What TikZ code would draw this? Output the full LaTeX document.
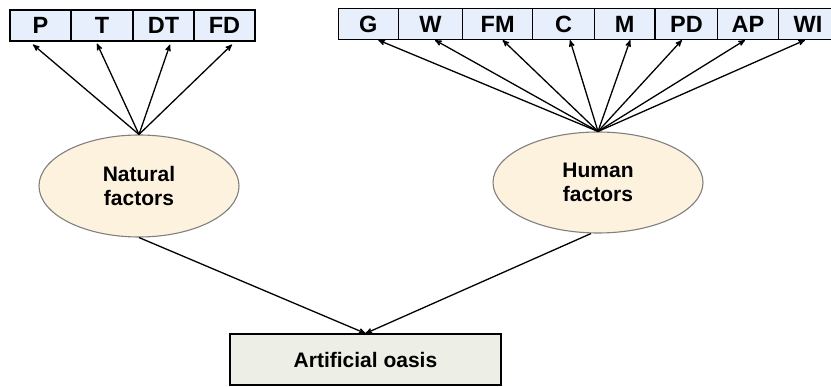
\documentclass[tikz,border=0pt]{standalone}
\usepackage{fontspec}
\setmainfont{Liberation Sans}
\usetikzlibrary{arrows,shapes.geometric}

\definecolor{cellblue}{RGB}{231,239,252}
\definecolor{factorfill}{RGB}{253,242,222}
\definecolor{oasisfill}{RGB}{237,239,230}

\begin{document}
\begin{tikzpicture}[x=1pt,y=-1pt,>=stealth',
    cell/.style={rectangle,draw,line width=1.2pt,fill=cellblue,inner sep=0pt,
      minimum height=31pt,font=\fontsize{23.5}{26}\selectfont\bfseries},
    factor/.style={ellipse,draw=gray,line width=1.1pt,fill=factorfill,inner sep=0pt,
      align=center,font=\fontsize{21}{24}\selectfont\bfseries}]
  \useasboundingbox (0,0) rectangle (831,387);

  % natural factors
  \node[cell,minimum width=61pt] (p)  at (40.5,25.5)  {P};
  \node[cell,minimum width=62pt] (t)  at (102,25.5)   {T};
  \node[cell,minimum width=61pt] (dt) at (163.5,25.5) {DT};
  \node[cell,minimum width=61pt] (fd) at (224.5,25.5) {FD};

  % human factors
  \node[cell,minimum width=60pt] (g)  at (368.3,24) {G};
  \node[cell,minimum width=64pt] (w)  at (430.5,24) {W};
  \node[cell,minimum width=70pt] (fm) at (497.7,24) {FM};
  \node[cell,minimum width=62pt] (c)  at (563.5,24) {C};
  \node[cell,minimum width=61pt] (m)  at (624.7,24) {M};
  \node[cell,minimum width=63pt] (pd) at (686.4,24) {PD};
  \node[cell,minimum width=61pt] (ap) at (748,24)   {AP};
  \node[cell,minimum width=59pt] (wi) at (808,24)   {WI};

  \node[factor,minimum width=200pt,minimum height=102pt] (natural) at (139,186) {Natural\\factors};
  \node[factor,minimum width=210pt,minimum height=101pt] (human) at (598,182.5) {Human\\factors};

  \node[rectangle,draw,line width=1.2pt,fill=oasisfill,minimum width=271pt,minimum height=51pt,
    font=\fontsize{21}{24}\selectfont\bfseries] (oasis) at (365.5,359.5) {Artificial oasis};

  \path[->,line width=1.3pt]
    (natural.north) edge ([xshift=-7.5pt,yshift=-3pt]p.south)
                    edge ([xshift=-5pt,yshift=-2pt]t.south)
                    edge ([xshift=6.5pt,yshift=-3pt]dt.south)
                    edge ([xshift=7.5pt,yshift=-3pt]fd.south)
    (human.north) edge ([xshift=10pt]g.south)
                  edge ([xshift=4.5pt]w.south)
                  edge ([xshift=5pt]fm.south)
                  edge ([xshift=6.5pt]c.south)
                  edge ([xshift=5.5pt]m.south)
                  edge ([xshift=-4.5pt]pd.south)
                  edge ([xshift=-3pt]ap.south)
                  edge ([xshift=-3pt]wi.south)
    (natural.south) edge (oasis.north)
    ([xshift=-7pt]human.south) edge (oasis.north);

\end{tikzpicture}
\end{document}
